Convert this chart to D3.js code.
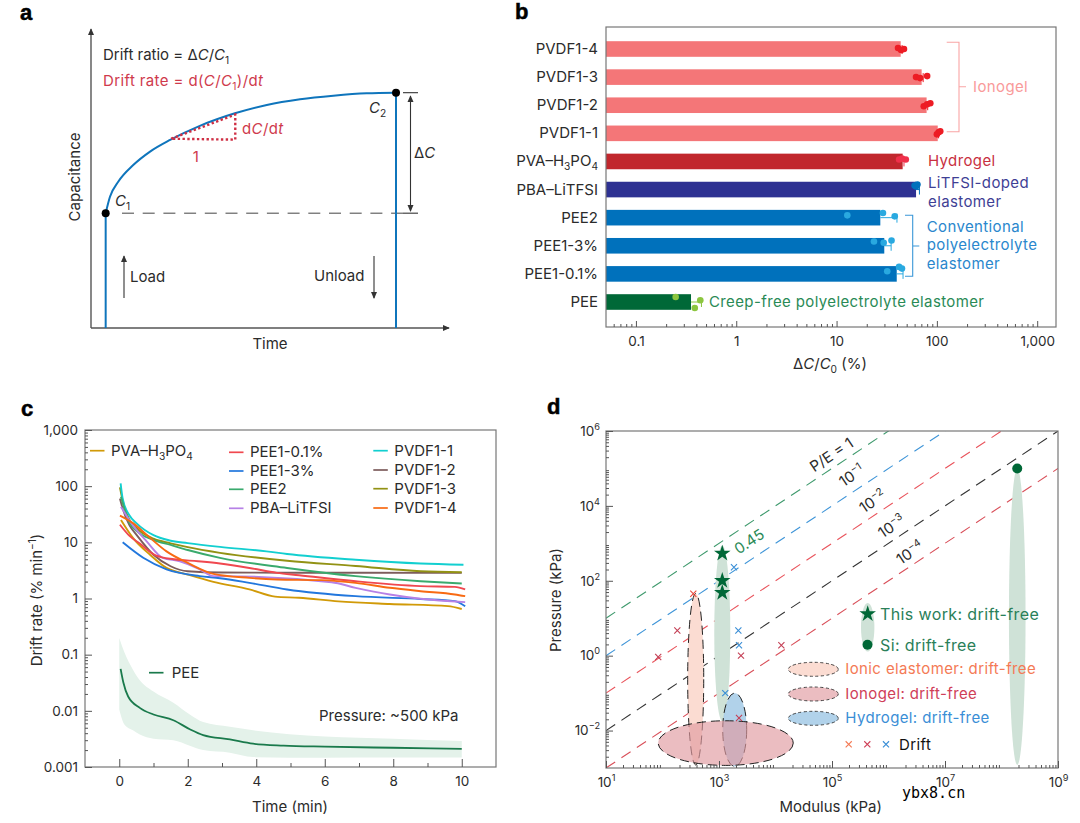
<!DOCTYPE html>
<html lang="en">
<head>
<meta charset="UTF-8">
<title>Drift of iontronic pressure sensors</title>
<script src="https://cdn.jsdelivr.net/npm/d3@7"></script>
<style>
    html, body { margin: 0; padding: 0; background: #fff; }
    svg { display: block; }
    text { font-family: Inter, sans-serif; fill: #2b2b2b; }
    .letter { font-family: "Liberation Sans", sans-serif; font-weight: 700; font-size: 22px; fill: #000; stroke: #000; stroke-width: 0.5; }
    .axis path { display: none; }
    .axis line { stroke: #555; stroke-width: 1; }
</style>
</head>
<body>
<script>
// panel a: schematic curve
const curveTime = [4.1, 5.3, 7.6, 11.8, 16.5, 22.1, 30.4, 40.2, 49.1, 58.4, 67.7, 77.0, 85.2];
const curveCap = [38.4, 43.9, 48.9, 54.5, 59.0, 62.9, 67.6, 71.8, 74.6, 76.5, 77.7, 78.5, 78.7];
const slopeTriangle = [[22.4, 63.3], [40.3, 71.4], [40.3, 63.0], [22.4, 63.3]];

// panel b
const materials = ['PVDF1-4', 'PVDF1-3', 'PVDF1-2', 'PVDF1-1', 'PVA–H3PO4', 'PBA–LiTFSI', 'PEE2', 'PEE1-3%', 'PEE1-0.1%', 'PEE'];
const meanDrift = [43.6, 70.5, 79, 102, 45.6, 62, 27.3, 29.9, 39.8, 0.354];
const maxDrift = [45, 73, 81, 104, 47, 67, 40, 35, 46, 0.45];
const driftPoints = [
    [41, 44, 47], [62, 68, 80], [74, 80, 86], [100, 104, 108], [42, 45, 49],
    [60, 62, 64], [12.8, 29, 38], [23.6, 29.5, 35.3], [32, 42, 44.9], [0.249, 0.386, 0.438]
];
const barColors = ['#f47678', '#f47678', '#f47678', '#f47678', '#c1272d', '#2e3192', '#0071bc', '#0071bc', '#0071bc', '#006837'];
const dotColors = ['#ed1c24', '#ed1c24', '#ed1c24', '#ed1c24', '#f0304a', '#0071bc', '#29a9e0', '#29a9e0', '#29a9e0', '#8cc63f'];
const dotShift = [
    [-1, 1, 0], [0, 1, -1], [1, -1, -2], [1, -1, -2], [-2, -3, -2],
    [-4, -3, -5], [-2.3, -4.7, -1.3], [-4.3, -3, -5.3], [-2.7, -7, -5.3], [-5, 6, -1.7]
];

// panel c: [time, drift rate]
const pvaH3po4 = [[0.05, 25], [0.4, 12], [0.9, 6], [1.38, 3.5], [2, 2.67], [2.75, 1.98], [3.8, 1.45], [4.55, 1.08], [5.25, 1.03], [6.4, 0.89], [7.9, 0.8], [9.6, 0.73], [10, 0.65]];
const pee01 = [[0.02, 20.6], [0.3, 13], [0.6, 9.5], [1.08, 5.8], [1.6, 5], [2.3, 4.6], [2.94, 4.2], [3.8, 3.5], [4.6, 2.86], [5.25, 2.6], [6.9, 2.03], [8.8, 1.66], [9.8, 1.61], [10.1, 1.45]];
const pee13 = [[0.1, 10], [0.7, 5.3], [1.38, 3.3], [2.35, 2.5], [2.94, 2.3], [3.8, 1.9], [4.9, 1.45], [6.9, 1.1], [8.8, 0.98], [9.8, 0.9], [10.1, 0.73]];
const pee2 = [[0.05, 65], [0.3, 22], [0.5, 16], [1, 11], [1.5, 9], [2, 7.3], [2.94, 5.3], [4.9, 3.5], [6.9, 2.5], [8.8, 2.03], [10, 1.85]];
const pbaLitfsi = [[0.05, 43], [0.4, 20], [0.8, 10.4], [1.27, 5.3], [1.77, 4.6], [2.35, 3.3], [2.75, 2.5], [2.94, 2.5], [6.2, 1.95], [6.9, 1.55], [7.9, 1.18], [8.8, 0.99], [10.1, 0.86]];
const pvdf11 = [[0.04, 112], [0.1, 60], [0.3, 30], [0.5, 22], [1, 13.4], [1.47, 10.8], [2, 9.7], [2.94, 8.3], [4.3, 6.9], [4.9, 6.2], [6.9, 4.9], [8.8, 4.2], [10.05, 4]];
const pvdf12 = [[0.02, 60], [0.1, 40], [0.3, 20], [0.5, 13.7], [1, 6], [1.5, 3.75], [2, 3.05], [3, 2.9], [5, 2.88], [7, 2.88], [10, 2.86]];
const pvdf13 = [[0.02, 95], [0.1, 55], [0.3, 25], [0.5, 18], [1, 11.6], [1.5, 9.6], [2, 8.2], [2.94, 6.5], [4.9, 4.7], [6.9, 3.8], [8.8, 3.06], [10, 2.94]];
const pvdf14 = [[0.02, 30], [0.4, 22], [0.9, 12], [1.38, 6.9], [2, 4.3], [2.75, 2.74], [3.8, 2.33], [4.6, 2.18], [5.9, 2.12], [6.9, 1.9], [7.9, 1.55], [8.8, 1.35], [9.8, 1.18], [10.1, 1.1]];
const peeMean = [[0.04, 0.056], [0.12, 0.032], [0.26, 0.018], [0.6, 0.0113], [1, 0.0086], [1.58, 0.0068], [2.06, 0.0047], [2.45, 0.0037], [3.23, 0.0031], [3.91, 0.0026], [4.8, 0.0024], [6, 0.0023], [8, 0.0022], [10, 0.0021]];
const bandTime = [0, 0.15, 0.4, 0.6, 1, 1.58, 2.06, 2.45, 3.23, 3.91, 6, 8, 10];
const bandHigh = [0.198, 0.11, 0.054, 0.035, 0.022, 0.0139, 0.0086, 0.0063, 0.0052, 0.0045, 0.0035, 0.0032, 0.0029];
const bandLow = [0.0106, 0.0057, 0.0045, 0.0038, 0.0032, 0.003, 0.0024, 0.002, 0.0018, 0.0015, 0.00146, 0.00147, 0.00148];
const rateSeries = [pvaH3po4, pvdf12, pvdf13, pvdf11, pee2, pee13, pbaLitfsi, pee01, pvdf14];
const rateColors = ['#d19a08', '#7d5c5c', '#929214', '#12cfd0', '#3aaa6d', '#2277dd', '#b681e6', '#f0484f', '#f86a12'];

// panel d
const ratioValues = [1, 0.1, 0.01, 0.001, 0.0001];
const ratioColors = ['#3f9a6d', '#3f95d8', '#e9545c', '#333333', '#d9505a'];
const ratioLabels = ['P/E = 1', '10|−1', '10|−2', '10|−3', '10|−4'];
const blobNames = ['Si', 'This work', 'Ionic elastomer', 'Hydrogel', 'Ionogel'];
const blobModulus = [1.9e8, 1143, 387, 1897, 1315];
const blobPressure = [11, 3.97, 0.234, 0.0105, 0.00463];
const blobSpanX = [0.147, 0.142, 0.142, 0.212, 1.195];
const blobSpanY = [3.96, 2.35, 2.29, 0.98, 0.596];
const blobFill = ['#cfe2d7', '#cfe2d7', '#fbdcd2', '#a9cde8', '#e09aa0'];
const blobOpacity = [1, 1, 1, 0.9, 0.65];
const starModulus = [1143, 1143, 1143];
const starPressure = [534, 100, 48];
const driftModulus = [351, 183, 84, 2200, 2260, 2450, 12700, 1290, 2260, 1840];
const driftPressure = [45, 4.7, 0.92, 4.7, 1.9, 1.0, 1.9, 0.1, 0.0216, 230];
const driftColors = ['#e8483f', '#c43f55', '#c43f55', '#3a8ed6', '#3a8ed6', '#c43f55', '#c43f55', '#3a8ed6', '#c43f55', '#3a8ed6'];

const svg = d3.select('body').append('svg').attr('width', 1080).attr('height', 823);
const fontSize = 15;
const tickSize = 13.5;

// mixed runs of plain, italic, sub and superscript text
function rich(sel, parts) {
    let shift = 0;
    parts.forEach(p => {
        const kind = Array.isArray(p) ? p[1] : '';
        const t = sel.append('tspan').text(Array.isArray(p) ? p[0] : p);
        const target = kind.includes('b') ? 4 : kind.includes('u') ? -6 : 0;
        if (target !== shift) t.attr('dy', target - shift);
        shift = target;
        if (kind.includes('i')) t.style('font-style', 'italic');
        if (kind.includes('b') || kind.includes('u')) t.style('font-size', '0.68em');
    });
    return sel;
}

function label(x, y, parts, color, anchor, size) {
    const t = svg.append('text').attr('x', x).attr('y', y)
        .attr('text-anchor', anchor || 'start')
        .attr('font-size', size || fontSize);
    if (color) t.style('fill', color).style('letter-spacing', '0.38px');
    return rich(t, [].concat(parts));
}

function logMinor(lo, hi) {
    const out = [];
    for (let e = lo; e < hi; e++) for (let m = 2; m < 10; m++) out.push(m * Math.pow(10, e));
    return out;
}

function frame(x0, y0, x1, y1) {
    svg.append('rect').attr('x', x0).attr('y', y0).attr('width', x1 - x0).attr('height', y1 - y0)
        .attr('fill', 'none').attr('stroke', '#777').attr('stroke-width', 1.2);
}

[['a', 20, 20], ['b', 515, 19], ['c', 21, 416], ['d', 547, 414]].forEach(d => {
    svg.append('text').attr('class', 'letter').attr('x', d[1]).attr('y', d[2]).text(d[0]);
});

// ---------- panel a ----------
const xA = d3.scaleLinear().domain([0, 100]).range([91, 449]);
const yA = d3.scaleLinear().domain([0, 100]).range([328, 29]);

svg.append('defs').html(`
  <marker id="tip" viewBox="0 0 8 8" refX="7" refY="4" markerWidth="7" markerHeight="7" markerUnits="userSpaceOnUse" orient="auto-start-reverse">
    <path d="M0,0.5L8,4L0,7.5Z" fill="#333"/>
  </marker>
  <clipPath id="clipD"><rect x="606" y="431" width="452" height="337"/></clipPath>`);

const arrow = (x1, y1, x2, y2, both) => svg.append('line')
    .attr('x1', x1).attr('y1', y1).attr('x2', x2).attr('y2', y2)
    .attr('stroke', '#333').attr('stroke-width', 1.1)
    .attr('marker-end', 'url(#tip)').attr('marker-start', both ? 'url(#tip)' : null);

svg.append('line').attr('x1', xA(0)).attr('x2', xA(0)).attr('y1', yA(0)).attr('y2', yA(100)).attr('stroke', '#555').attr('stroke-width', 1.4).attr('marker-end', 'url(#tip)');
svg.append('line').attr('x1', xA(0)).attr('x2', xA(100)).attr('y1', yA(0)).attr('y2', yA(0)).attr('stroke', '#555').attr('stroke-width', 1.4).attr('marker-end', 'url(#tip)');

const lastT = curveTime.length - 1;
svg.append('line').attr('x1', 122).attr('x2', 403).attr('y1', yA(curveCap[0])).attr('y2', yA(curveCap[0]))
    .attr('stroke', '#444').attr('stroke-width', 1).attr('stroke-dasharray', '12 8.7');
[curveCap[0], curveCap[lastT]].forEach(c => {
    svg.append('line').attr('x1', 403).attr('x2', 418).attr('y1', yA(c)).attr('y2', yA(c)).attr('stroke', '#333').attr('stroke-width', 1.1);
});
arrow(410.5, 96, 410.5, 211, true);

const curveA = d3.line().x(d => xA(d[0])).y(d => yA(d[1])).curve(d3.curveMonotoneX);
const curvePts = curveTime.map((t, i) => [t, curveCap[i]]);
svg.append('path').attr('d', curveA(curvePts)).attr('fill', 'none').attr('stroke', '#0f75bc').attr('stroke-width', 2);
[[curveTime[0], curveCap[0]], [curveTime[lastT], curveCap[lastT]]].forEach(p => {
    svg.append('line').attr('x1', xA(p[0])).attr('x2', xA(p[0])).attr('y1', yA(p[1])).attr('y2', yA(0)).attr('stroke', '#0f75bc').attr('stroke-width', 2);
    svg.append('circle').attr('cx', xA(p[0])).attr('cy', yA(p[1])).attr('r', 4).attr('fill', '#000');
});
svg.append('path').attr('d', d3.line().x(d => xA(d[0])).y(d => yA(d[1]))(slopeTriangle))
    .attr('fill', 'none').attr('stroke', '#cf2f44').attr('stroke-width', 2.4).attr('stroke-dasharray', '2.4 2.4');

label(103, 60, ['Drift ratio = Δ', ['C', 'i'], '/', ['C', 'i'], ['1', 'b']]);
label(103, 86, ['Drift rate = d(', ['C', 'i'], '/', ['C', 'i'], ['1', 'b'], ')/d', ['t', 'i']], '#cf3a4c');
label(242, 134, ['d', ['C', 'i'], '/d', ['t', 'i']], '#cf3a4c');
label(196, 162, '1', '#cf3a4c', 'middle');
label(115, 206, [['C', 'i'], ['1', 'b']]);
label(369, 113, [['C', 'i'], ['2', 'b']]);
label(414, 158, ['Δ', ['C', 'i']]);
label(130, 282, 'Load');
label(314, 281, 'Unload');
arrow(124, 298, 124, 256);
arrow(374, 256, 374, 298);
label(270, 349, 'Time', null, 'middle');
svg.append('text').attr('transform', 'translate(80,177) rotate(-90)').attr('text-anchor', 'middle').attr('font-size', fontSize).text('Capacitance');

// ---------- panel b ----------
const xB = d3.scaleLog().domain([0.0503, 1540]).range([606, 1056]);
const yB = d3.scalePoint().domain(materials).range([49, 302]);
const barH = 15.6;

svg.selectAll('.bar').data(materials).enter().append('rect')
    .attr('x', xB.range()[0])
    .attr('y', d => yB(d) - barH / 2)
    .attr('height', barH)
    .attr('width', (d, i) => xB(meanDrift[i]) - xB.range()[0])
    .attr('fill', (d, i) => barColors[i]);

materials.forEach((m, i) => {
    const y = yB(m);
    const c = dotColors[i];
    svg.append('line').attr('x1', xB(meanDrift[i])).attr('x2', xB(maxDrift[i])).attr('y1', y).attr('y2', y).attr('stroke', c).attr('stroke-width', 1);
    svg.append('line').attr('x1', xB(maxDrift[i])).attr('x2', xB(maxDrift[i])).attr('y1', y - 4).attr('y2', y + 5).attr('stroke', c).attr('stroke-width', 1);
    driftPoints[i].forEach((v, j) => {
        svg.append('circle').attr('cx', xB(v)).attr('cy', y + dotShift[i][j]).attr('r', 3.3).attr('fill', c);
    });
});

frame(606, 27, 1056, 327);
svg.append('g').attr('class', 'axis').attr('transform', 'translate(0,327)')
    .call(d3.axisBottom(xB).tickValues(logMinor(-2, 3).filter(v => v > 0.0503)).tickSize(-3).tickFormat(''));
const axisB = svg.append('g').attr('class', 'axis').attr('transform', 'translate(0,327)')
    .call(d3.axisBottom(xB).tickValues([0.1, 1, 10, 100, 1000]).tickSize(-6).tickPadding(9).tickFormat(d3.format(',')));
axisB.selectAll('text').attr('font-size', tickSize).style('font-family', 'Inter');

materials.forEach(m => {
    const parts = m === 'PVA–H3PO4' ? ['PVA–H', ['3', 'b'], 'PO', ['4', 'b']] : m;
    label(598, yB(m) + 5, parts, null, 'end');
});
label(830, 369, ['Δ', ['C', 'i'], '/', ['C', 'i'], ['0', 'b'], ' (%)'], null, 'middle');

const bracket = (x0, x1, x2, y0, y1, ym, c) => svg.append('path')
    .attr('d', `M${x0},${y0}H${x1}V${y1}H${x0}M${x1},${ym}H${x2}`)
    .attr('fill', 'none').attr('stroke', c).attr('stroke-width', 1.1);
bracket(946.7, 959, 966, 42.3, 131.7, 86.7, '#f9a5a5');
bracket(905, 912.7, 919.3, 215.3, 276.3, 246, '#3a97d8');
label(973, 92, 'Ionogel', '#f99a9a');
label(928, 166, 'Hydrogel', '#c8303f');
label(928, 188, 'LiTFSI-doped', '#3f3f95');
label(928, 207, 'elastomer', '#3f3f95');
['Conventional', 'polyelectrolyte', 'elastomer'].forEach((s, i) => label(926.7, 232 + i * 18.4, s, '#2a87cd'));
label(709, 307, 'Creep-free polyelectrolyte elastomer', '#2a8a56');

// ---------- panel c ----------
const xC = d3.scaleLinear().domain([-1, 11]).range([85, 496]);
const yC = d3.scaleLog().domain([0.001, 1000]).range([767, 430]);

const band = d3.area().curve(d3.curveMonotoneX)
    .x(d => xC(d.t)).y0(d => yC(d.lo)).y1(d => yC(d.hi));
svg.append('path')
    .datum(bandTime.map((t, i) => ({ t, lo: bandLow[i], hi: bandHigh[i] })))
    .attr('d', band).attr('fill', '#e4f2ea');

const lineC = d3.line().x(d => xC(d[0])).y(d => yC(d[1])).curve(d3.curveMonotoneX);
svg.selectAll('.rate').data(rateSeries).enter().append('path')
    .attr('d', lineC).attr('fill', 'none')
    .attr('stroke', (d, i) => rateColors[i]).attr('stroke-width', 1.9);
svg.append('path').attr('d', lineC(peeMean)).attr('fill', 'none').attr('stroke', '#1a7a4c').attr('stroke-width', 1.8);

frame(85, 430, 496, 767);
svg.append('g').attr('class', 'axis').attr('transform', 'translate(0,767)')
    .call(d3.axisBottom(xC).tickValues([1, 3, 5, 7, 9]).tickSize(-4).tickFormat(''));
const axisCx = svg.append('g').attr('class', 'axis').attr('transform', 'translate(0,767)')
    .call(d3.axisBottom(xC).tickValues([0, 2, 4, 6, 8, 10]).tickSize(-8).tickPadding(9).tickFormat(d3.format('d')));
axisCx.selectAll('text').attr('font-size', tickSize).style('font-family', 'Inter');
svg.append('g').attr('class', 'axis').attr('transform', 'translate(85,0)')
    .call(d3.axisLeft(yC).tickValues(logMinor(-3, 3)).tickSize(-3).tickFormat(''));
const axisCy = svg.append('g').attr('class', 'axis').attr('transform', 'translate(85,0)')
    .call(d3.axisLeft(yC).tickValues([0.001, 0.01, 0.1, 1, 10, 100, 1000]).tickSize(-7).tickPadding(7)
        .tickFormat(d => d >= 1 ? d3.format(',')(d) : String(d)));
axisCy.selectAll('text').attr('font-size', tickSize).style('font-family', 'Inter');

const legendC = [
    [90, 111, 450.7, 'PVA–H|3|PO|4', '#d19a08'],
    [229, 250, 452.3, 'PEE1-0.1%', '#f0484f'],
    [229, 250, 471, 'PEE1-3%', '#2277dd'],
    [229, 250, 489.3, 'PEE2', '#3aaa6d'],
    [229, 250, 508.3, 'PBA–LiTFSI', '#b681e6'],
    [373.3, 394.3, 450.7, 'PVDF1-1', '#12cfd0'],
    [373.3, 394.3, 470, 'PVDF1-2', '#7d5c5c'],
    [373.3, 394.3, 488.7, 'PVDF1-3', '#929214'],
    [373.3, 394.3, 508, 'PVDF1-4', '#f86a12'],
    [149, 171.7, 672.7, 'PEE', '#1a7a4c']
];
legendC.forEach(d => {
    svg.append('line').attr('x1', d[0]).attr('x2', d[0] + 14.5).attr('y1', d[2]).attr('y2', d[2]).attr('stroke', d[4]).attr('stroke-width', 1.7);
    const parts = d[3].includes('|') ? ['PVA–H', ['3', 'b'], 'PO', ['4', 'b']] : d[3];
    label(d[1], d[2] + 5, parts);
});
label(319, 721, 'Pressure: ~500 kPa');
label(290, 812, 'Time (min)', null, 'middle');
const rateTitle = svg.append('text').attr('transform', 'translate(42,600) rotate(-90)').attr('text-anchor', 'middle').attr('font-size', fontSize);
rich(rateTitle, ['Drift rate (% min', ['−1', 'u'], ')']);

// ---------- panel d ----------
const xD = d3.scaleLog().domain([10, 1e9]).range([606, 1058]);
const yD = d3.scaleLog().domain([1e-3, 1e6]).range([768, 431]);
const angle = -Math.atan((yD(1) - yD(10)) / (xD(10) - xD(1))) * 180 / Math.PI;

const plotD = svg.append('g').attr('clip-path', 'url(#clipD)');
ratioValues.forEach((r, i) => {
    plotD.append('line')
        .attr('x1', xD(10)).attr('y1', yD(10 * r)).attr('x2', xD(1e9)).attr('y2', yD(1e9 * r))
        .attr('stroke', ratioColors[i]).attr('stroke-width', 1.1).attr('stroke-dasharray', '11 7.5');
});

const blob = (g, m, p, sx, sy, fill, op, dashed) => g.append('ellipse')
    .attr('cx', xD(m)).attr('cy', yD(p))
    .attr('rx', xD(m * Math.pow(10, sx)) - xD(m))
    .attr('ry', yD(p) - yD(p * Math.pow(10, sy)))
    .attr('fill', fill).attr('fill-opacity', op)
    .attr('stroke', dashed ? '#222' : 'none').attr('stroke-width', 1).attr('stroke-dasharray', dashed ? '9 5' : null);
blobNames.forEach((n, i) => {
    blob(plotD, blobModulus[i], blobPressure[i], blobSpanX[i], blobSpanY[i], blobFill[i], blobOpacity[i], i > 1);
});

const star = d3.symbol().type(d3.symbolStar).size(85);
const cross = d3.symbol().type(d3.symbolTimes).size(26);
starModulus.forEach((m, i) => {
    svg.append('path').attr('d', star()).attr('transform', `translate(${xD(m)},${yD(starPressure[i])})`).attr('fill', '#006837');
});
svg.append('circle').attr('cx', xD(blobModulus[0])).attr('cy', yD(1e5)).attr('r', 5).attr('fill', '#006837');
driftModulus.forEach((m, i) => {
    svg.append('path').attr('d', cross()).attr('transform', `translate(${xD(m)},${yD(driftPressure[i])})`)
        .attr('fill', 'none').attr('stroke', driftColors[i]).attr('stroke-width', 1.1);
});

frame(606, 431, 1058, 768);

function powerTicks(axisG) {
    axisG.selectAll('.tick text').each(function (d) {
        const t = d3.select(this).text(null);
        rich(t, ['10', [String(Math.round(Math.log10(d))).replace('-', '−'), 'u']]);
    }).attr('font-size', tickSize).style('font-family', 'Inter');
}
svg.append('g').attr('class', 'axis').attr('transform', 'translate(0,768)')
    .call(d3.axisBottom(xD).tickValues(logMinor(1, 9)).tickSize(-3).tickFormat(''));
svg.append('g').attr('class', 'axis').attr('transform', 'translate(606,0)')
    .call(d3.axisLeft(yD).tickValues(logMinor(-3, 6)).tickSize(-3).tickFormat(''));
svg.append('g').attr('class', 'axis').attr('transform', 'translate(0,768)')
    .call(d3.axisBottom(xD).tickValues([10, 1e3, 1e5, 1e7, 1e9]).tickSize(-7).tickPadding(9)).call(powerTicks);
svg.append('g').attr('class', 'axis').attr('transform', 'translate(606,0)')
    .call(d3.axisLeft(yD).tickValues([1e-2, 1, 1e2, 1e4, 1e6]).tickSize(-7).tickPadding(6)).call(powerTicks);

label(830.7, 812, 'Modulus (kPa)', null, 'middle');
svg.append('text').attr('transform', 'translate(561,600) rotate(-90)').attr('text-anchor', 'middle').attr('font-size', fontSize).text('Pressure (kPa)');

[[831.7, 455], [851.7, 476], [872.7, 501.7], [891.7, 526.7], [910, 553]].forEach((p, i) => {
    const t = svg.append('text').attr('transform', `translate(${p[0]},${p[1]}) rotate(${angle})`)
        .attr('text-anchor', 'middle').attr('dy', 5).attr('font-size', fontSize);
    const s = ratioLabels[i].split('|');
    rich(t, s.length > 1 ? [s[0], [s[1], 'u']] : [s[0]]);
});
svg.append('text').attr('transform', `translate(749.3,541.7) rotate(${angle})`).attr('text-anchor', 'middle').attr('dy', 5)
    .attr('font-size', fontSize).style('fill', '#2a8a56').text('0.45');

// legend of panel d, placed in pixels
svg.append('ellipse').attr('cx', 867.7).attr('cy', 627.3).attr('rx', 6.7).attr('ry', 24.3).attr('fill', '#cfe2d7');
svg.append('path').attr('d', star()).attr('transform', 'translate(867.7,614)').attr('fill', '#006837');
svg.append('circle').attr('cx', 867.5).attr('cy', 644.7).attr('r', 5).attr('fill', '#006837');
label(880, 619.5, 'This work: drift-free', '#2a8059', 'start', 16);
label(880, 650.5, 'Si: drift-free', '#2a8059', 'start', 16);
[[669.3, 'Ionic elastomer: drift-free', '#f47a55', 2], [694, 'Ionogel: drift-free', '#cf4058', 4], [718.3, 'Hydrogel: drift-free', '#3a8ed6', 3]].forEach(d => {
    svg.append('ellipse').attr('cx', 813.3).attr('cy', d[0]).attr('rx', 25).attr('ry', 7)
        .attr('fill', blobFill[d[3]]).attr('fill-opacity', blobOpacity[d[3]])
        .attr('stroke', '#333').attr('stroke-width', 0.9).attr('stroke-dasharray', '3 2.5');
    label(845.3, d[0] + 5, d[1], d[2]);
});
[[848.7, '#f47a55'], [867.3, '#cf4058'], [886, '#3a8ed6']].forEach(d => {
    svg.append('path').attr('d', cross()).attr('transform', `translate(${d[0]},744.3)`).attr('fill', 'none').attr('stroke', d[1]).attr('stroke-width', 1.1);
});
label(899, 749.5, 'Drift', '#111');

svg.append('text').attr('x', 902).attr('y', 798).attr('font-size', 15).style('font-family', '"DejaVu Sans Mono"').style('fill', '#000').text('ybx8.cn');
</script>
</body>
</html>
